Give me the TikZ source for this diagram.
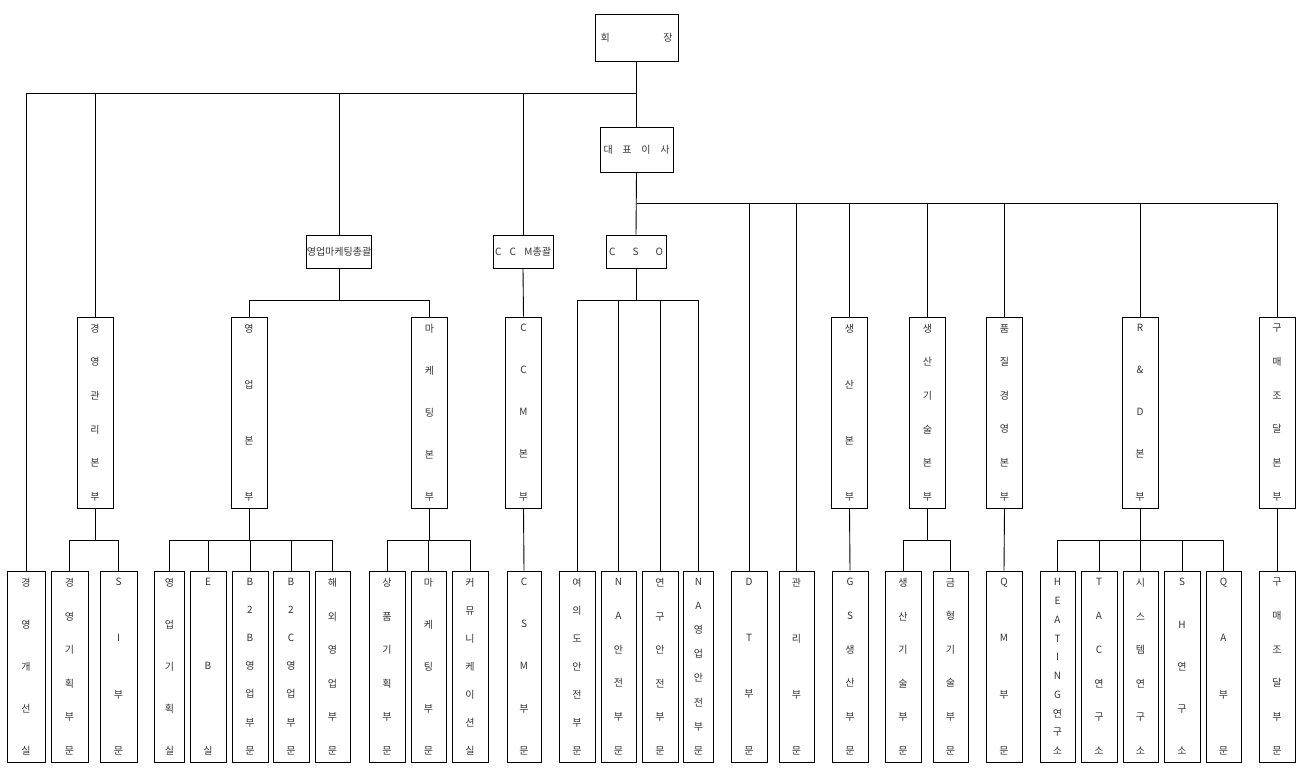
\documentclass[tikz,border=0pt]{standalone}
\usepackage{fontspec}
\setmainfont{Noto Sans CJK KR}
\newcommand\vb{\par\vfill}
\newcommand\vt[1]{\parbox[c][176pt][s]{30pt}{\centering #1}}
\newcommand\hs[2]{\makebox[#1pt]{#2}}
\begin{document}
\begin{tikzpicture}[x=1pt,y=-1pt,
  every node/.style={font=\fontsize{10}{11}\selectfont,color=black!80},
  box/.style={draw=black,line width=0.9pt,inner sep=0pt},
  tall/.style={box,minimum width=36pt,minimum height=191pt},
  lnk/.style={line width=0.9pt}]
\useasboundingbox (0,0) rectangle (1304,772);
% top
\node[box,minimum width=83pt,minimum height=47pt] (ch) at (636.5,37.5) {\hs{72}{회\hfill 장}};
\node[box,minimum width=73pt,minimum height=45pt] (ceo) at (636.5,149.5) {\hs{66}{대\hfill 표\hfill 이\hfill 사}};
\node[box,minimum width=60pt,minimum height=33pt] (smt) at (339,251.5) {영업마케팅총괄};
\node[box,minimum width=60pt,minimum height=33pt] (ccmt) at (523,251.5) {\hs{56}{C\hfill C\hfill M총괄}};
\node[box,minimum width=60pt,minimum height=33pt] (cso) at (636,251.5) {\hs{54}{C\hfill S\hfill O}};
% middle row
\foreach \n/\x/\t in {
 glb/95/{경\vb 영\vb 관\vb 리\vb 본\vb 부},
 yeb/249/{영\vb 업\vb 본\vb 부},
 mkb/429.5/{마\vb 케\vb 팅\vb 본\vb 부},
 ccmb/523.5/{C\vb C\vb M\vb 본\vb 부},
 scb/849.5/{생\vb 산\vb 본\vb 부},
 sgb/927.5/{생\vb 산\vb 기\vb 술\vb 본\vb 부},
 qmb/1004.5/{품\vb 질\vb 경\vb 영\vb 본\vb 부},
 rdb/1140/{R\vb \&\vb D\vb 본\vb 부},
 gmb/1277/{구\vb 매\vb 조\vb 달\vb 본\vb 부}}
 \node[tall] (\n) at (\x,412.5) {\vt{\t}};
% bottom row
\foreach \n/\x/\w/\t in {
 b1/26/38/{경\vb 영\vb 개\vb 선\vb 실},
 b2/69.5/37/{경\vb 영\vb 기\vb 획\vb 부\vb 문},
 b3/118.5/37/{S\vb I\vb 부\vb 문},
 b4/169.5/29/{영\vb 업\vb 기\vb 획\vb 실},
 b5/208/36/{E\vb B\vb 실},
 b6/250/36/{B\vb 2\vb B\vb 영\vb 업\vb 부\vb 문},
 b7/291/36/{B\vb 2\vb C\vb 영\vb 업\vb 부\vb 문},
 b8/332.5/35/{해\vb 외\vb 영\vb 업\vb 부\vb 문},
 b9/387/36/{상\vb 품\vb 기\vb 획\vb 부\vb 문},
 b10/428.5/35/{마\vb 케\vb 팅\vb 부\vb 문},
 b11/470/36/{커\vb 뮤\vb 니\vb 케\vb 이\vb 션\vb 실},
 b12/524/34/{C\vb S\vb M\vb 부\vb 문},
 b13/577/36/{여\vb 의\vb 도\vb 안\vb 전\vb 부\vb 문},
 b14/618.5/35/{N\vb A\vb 안\vb 전\vb 부\vb 문},
 b15/660/36/{연\vb 구\vb 안\vb 전\vb 부\vb 문},
 b16/698.5/29/{N\vb A\vb 영\vb 업\vb 안\vb 전\vb 부\vb 문},
 b17/749/36/{D\vb T\vb 부\vb 문},
 b18/796.5/35/{관\vb 리\vb 부\vb 문},
 b19/850/36/{G\vb S\vb 생\vb 산\vb 부\vb 문},
 b20/903/36/{생\vb 산\vb 기\vb 술\vb 부\vb 문},
 b21/950.5/35/{금\vb 형\vb 기\vb 술\vb 부\vb 문},
 b22/1004/36/{Q\vb M\vb 부\vb 문},
 b23/1057.5/35/{H\vb E\vb A\vb T\vb I\vb N\vb G\vb 연\vb 구\vb 소},
 b24/1099/36/{T\vb A\vb C\vb 연\vb 구\vb 소},
 b25/1140.5/35/{시\vb 스\vb 템\vb 연\vb 구\vb 소},
 b26/1182/36/{S\vb H\vb 연\vb 구\vb 소},
 b27/1223.5/35/{Q\vb A\vb 부\vb 문},
 b28/1277/36/{구\vb 매\vb 조\vb 달\vb 부\vb 문}}
 \node[tall,minimum width=\w pt] (\n) at (\x,666.5) {\vt{\t}};
% connectors
\draw[lnk] (ch.south) -- (ceo.north);
\foreach \c in {b1,glb,smt,ccmt} \draw[lnk] (ch.south |- 0,93) -| (\c.north);
\draw[lnk] (ceo.south) -- (cso.north);
\foreach \c in {b17,b18,scb,sgb,qmb,rdb,gmb} \draw[lnk] (ceo.south |- 0,203) -| (\c.north);
\foreach \c in {yeb,mkb} \draw[lnk] (smt.south) -- (smt.south |- 0,300) -| (\c.north);
\draw[lnk] (ccmt.south) -- (ccmb.north);
\foreach \c in {b13,b14,b15,b16} \draw[lnk] (cso.south) -- (cso.south |- 0,300) -| (\c.north);
\foreach \p/\cs in {glb/{b2,b3},yeb/{b4,b5,b6,b7,b8},mkb/{b9,b10,b11},sgb/{b20,b21},rdb/{b23,b24,b25,b26,b27}}
 \foreach \c in \cs \draw[lnk] (\p.south) -- (\p.south |- 0,540) -| (\c.north);
\foreach \p/\c in {ccmb/b12,scb/b19,qmb/b22,gmb/b28} \draw[lnk] (\p.south) -- (\c.north);
\end{tikzpicture}
\end{document}
